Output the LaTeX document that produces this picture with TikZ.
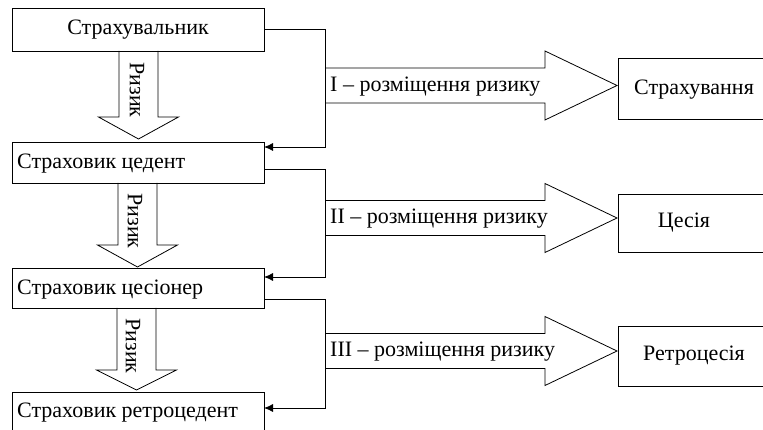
\documentclass[tikz,border=0pt]{standalone}
\usepackage{fontspec}
\setmainfont{Liberation Serif}
\usetikzlibrary{arrows.meta}
\tikzset{
  box/.style={draw, line width=0.8pt, inner sep=0pt},
  lbl/.style={inner sep=0pt, font=\fontsize{22}{26}\selectfont},
  big/.style={draw, line width=0.8pt, line join=miter},
  conn/.style={draw, line width=0.8pt, -{Latex[length=9pt,width=8pt]}}
}
\newcommand{\riskarrow}[4]{%
  \draw[big] (#1-19.5,#2) -- (#1-19.5,#3) -- (#1-40,#3) -- (#1,#4) -- (#1+40,#3) -- (#1+19.5,#3) -- (#1+19.5,#2);}
\newcommand{\placearrow}[1]{%
  \draw[big] (325,#1-17.5) -- (545,#1-17.5) -- (545,#1-34.5) -- (617,#1) -- (545,#1+34.5) -- (545,#1+17.5) -- (325,#1+17.5);}
\begin{document}
\begin{tikzpicture}[x=1pt,y=-1pt]
\clip (0,0) rectangle (763,430);
\fill[white] (0,0) rectangle (763,430);
% left boxes
\draw[box] (12,8) rectangle (264,51);
\draw[box] (12,142) rectangle (264,183);
\draw[box] (12,268) rectangle (264,308);
\draw[box] (12,392) rectangle (264,450);
\node[coordinate] (b1) at (264,29) {};
\node[coordinate] (b2) at (264,169) {};
\node[coordinate] (b3) at (264,299) {};
\node[lbl] (t1) at (138,30) {Страхувальник};
\node[lbl, anchor=west] (t2) at (17,164) {Страховик цедент};
\node[lbl, anchor=west] (t3) at (17,290) {Страховик цесіонер};
\node[lbl, anchor=west] (t4) at (17,413) {Страховик ретроцедент};
% right boxes
\draw[box] (618,58) rectangle (790,119);
\draw[box] (618,194) rectangle (790,252);
\draw[box] (618,326) rectangle (790,386);
\node[lbl] (r1) at (694,90) {Страхування};
\node[lbl] (r2) at (684,223) {Цесія};
\node[lbl] (r3) at (694,356) {Ретроцесія};
% risk arrows
\riskarrow{138.5}{51}{117}{139}
\riskarrow{137.5}{183}{245}{267}
\riskarrow{136.5}{308}{370}{390}
\node[lbl, rotate=-90] (k1) at (137,90) {Ризик};
\node[lbl, rotate=-90] (k2) at (135,221) {Ризик};
\node[lbl, rotate=-90] (k3) at (133,346) {Ризик};
% placement arrows
\placearrow{85.5}
\placearrow{218}
\placearrow{351}
\node[lbl, anchor=west] (p1) at (330,87) {I – розміщення ризику};
\node[lbl, anchor=west] (p2) at (330,219) {II – розміщення ризику};
\node[lbl, anchor=west] (p3) at (330,352) {III – розміщення ризику};
% connectors
\coordinate (j1) at (325,147);
\coordinate (j2) at (325,277);
\coordinate (j3) at (325,408);
\draw[conn] (b1) -| (j1) -- (j1 -| b1);
\draw[conn] (b2) -| (j2) -- (j2 -| b2);
\draw[conn] (b3) -| (j3) -- (j3 -| b3);
\end{tikzpicture}
\end{document}
